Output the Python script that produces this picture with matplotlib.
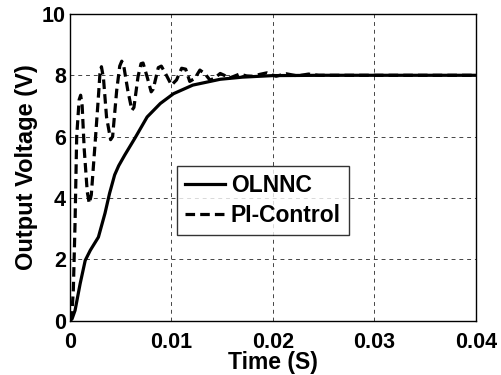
import numpy as np
import matplotlib
matplotlib.use("Agg")
import matplotlib.pyplot as plt

# OLNNC response
t_olnnc = [0, 0.0002, 0.0005, 0.001, 0.0015, 0.002, 0.0028, 0.00345, 0.0039, 0.0044,
           0.0048, 0.0054, 0.0064, 0.0076, 0.0089, 0.0102, 0.0121, 0.0148, 0.017, 0.02,
           0.025, 0.04]
v_olnnc = [0, 0.05, 0.33, 1.2, 1.96, 2.29, 2.72, 3.5, 4.15, 4.75,
           5.05, 5.4, 5.95, 6.64, 7.08, 7.4, 7.68, 7.87, 7.94, 7.99,
           8.0, 8.0]

# PI-Control response
t_pi = [0, 0.0002, 0.00033, 0.0005, 0.00066, 0.0009, 0.00105, 0.0012, 0.0014, 0.0017,
        0.0019, 0.0021, 0.0025, 0.0028, 0.00295, 0.0031, 0.0033, 0.0036, 0.0040, 0.0042,
        0.0046, 0.0049, 0.0051, 0.0053, 0.0057, 0.0061, 0.0063, 0.0067, 0.0070, 0.0072,
        0.0076, 0.008, 0.0082, 0.0087, 0.0090, 0.0095, 0.01, 0.0105, 0.011, 0.0114,
        0.0118, 0.0123, 0.0128, 0.0133, 0.0138, 0.0143, 0.0148, 0.0152, 0.0156, 0.0161,
        0.0167, 0.0174, 0.018, 0.0187, 0.0194, 0.0203, 0.0213, 0.0224, 0.0235, 0.0245,
        0.04]
v_pi = [0, 0.3, 1.0, 3.2, 6.0, 7.2, 7.35, 7.0, 5.6, 4.2,
        3.82, 4.1, 5.9, 7.3, 8.05, 8.28, 7.9, 6.64, 5.9, 6.0,
        7.5, 8.3, 8.46, 8.3, 7.5, 6.86, 6.95, 7.95, 8.38, 8.4,
        7.95, 7.46, 7.55, 8.25, 8.3, 8.0, 7.68, 7.85, 8.23, 8.2,
        7.8, 7.9, 8.17, 8.05, 7.84, 7.92, 8.06, 8.0, 7.9, 7.96,
        8.04, 7.98, 7.97, 8.03, 8.08, 7.97, 8.05, 7.98, 8.04, 8.0,
        8.0]

plt.rcParams['font.family'] = ['Liberation Sans', 'DejaVu Sans']
plt.rcParams['font.weight'] = 'bold'

fig = plt.figure(figsize=(5.01, 3.75), dpi=100)
ax = fig.add_axes([0.1397, 0.1453, 0.8103, 0.8174])

ax.plot(t_olnnc, v_olnnc, color='black', lw=2.3, label='OLNNC')
ax.plot(t_pi, v_pi, color='black', lw=2.3, linestyle=(0, (3, 1.6)), label='PI-Control')

ax.set_xlim(0, 0.04)
ax.set_ylim(0, 10)
ax.set_xticks([0, 0.01, 0.02, 0.03, 0.04])
ax.set_xticklabels(['0', '0.01', '0.02', '0.03', '0.04'])
ax.set_yticks([0, 2, 4, 6, 8, 10])

ax.grid(True, color='#444444', linestyle=(0, (4, 4)), lw=0.7)
ax.tick_params(direction='in', length=0, labelsize=15.5)
ax.tick_params(axis='x', pad=8)
ax.tick_params(axis='y', pad=3)
for s in ax.spines.values():
    s.set_linewidth(1.0)

ax.set_xlabel('Time (S)', fontsize=16.5, fontweight='bold', labelpad=-1)
ax.set_ylabel('Output Voltage (V)', fontsize=17, fontweight='bold', labelpad=3)

leg = ax.legend(loc='upper left', bbox_to_anchor=(0.2635, 0.504), fontsize=16.5,
                frameon=True, fancybox=False, edgecolor='black', handlelength=1.75,
                handletextpad=0.25, borderpad=0.35, labelspacing=0.3, borderaxespad=0)
leg.get_frame().set_linewidth(1.0)

fig.savefig('out.png', dpi=100)
